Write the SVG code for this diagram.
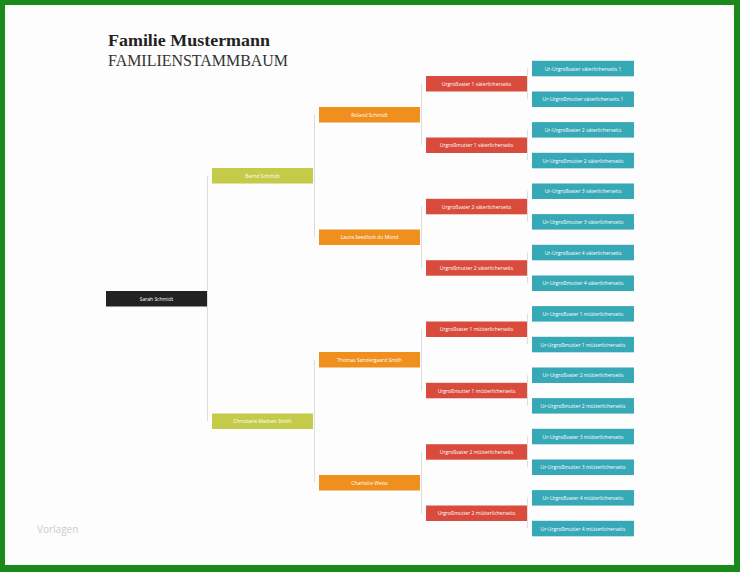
<svg xmlns="http://www.w3.org/2000/svg" width="740" height="572" viewBox="0 0 740 572">
<style>
.t{font-family:"Open Sans","Liberation Sans",sans-serif;font-size:5px;fill:#ffffff;text-anchor:middle;dominant-baseline:central}
.k{fill:#222222}.o{fill:#c4cb48}.g{fill:#ef8f1d}.r{fill:#d94b3c}.c{fill:#37a9b6}
.ln{stroke:#dddddd;stroke-width:1;fill:none}
</style>
<rect x="0" y="0" width="740" height="572" fill="#1a8a1a"/>
<rect x="5" y="5" width="729" height="560" fill="#fdfdfd"/>
<text x="108" y="46" font-family="'Liberation Serif',serif" font-weight="bold" font-size="17.5" fill="#222" textLength="162" lengthAdjust="spacingAndGlyphs">Familie Mustermann</text>
<text x="108" y="66" font-family="'Liberation Serif',serif" font-size="16" fill="#333" textLength="180" lengthAdjust="spacingAndGlyphs">FAMILIENSTAMMBAUM</text>
<text x="37" y="533" font-family="'Open Sans','Liberation Sans',sans-serif" font-size="10" fill="#cccccc">Vorlagen</text>
<g id="connectors">
<line class="ln" x1="207.5" y1="176" x2="207.5" y2="421"/>
<line class="ln" x1="314.5" y1="114.5" x2="314.5" y2="237"/>
<line class="ln" x1="314.5" y1="360" x2="314.5" y2="482.5"/>
<line class="ln" x1="421.5" y1="84" x2="421.5" y2="145"/>
<line class="ln" x1="421.5" y1="206.5" x2="421.5" y2="268"/>
<line class="ln" x1="421.5" y1="329" x2="421.5" y2="390.5"/>
<line class="ln" x1="421.5" y1="452" x2="421.5" y2="513.5"/>
<line class="ln" x1="527.5" y1="68.5" x2="527.5" y2="99.2"/>
<line class="ln" x1="527.5" y1="129.8" x2="527.5" y2="160.5"/>
<line class="ln" x1="527.5" y1="191.2" x2="527.5" y2="221.8"/>
<line class="ln" x1="527.5" y1="252.5" x2="527.5" y2="283.2"/>
<line class="ln" x1="527.5" y1="313.8" x2="527.5" y2="344.5"/>
<line class="ln" x1="527.5" y1="375.2" x2="527.5" y2="405.8"/>
<line class="ln" x1="527.5" y1="436.5" x2="527.5" y2="467.2"/>
<line class="ln" x1="527.5" y1="497.8" x2="527.5" y2="528.5"/>
</g>
<g id="n-sarah"><rect class="k" x="106" y="291" width="101" height="15.5"/><text class="t" x="156.5" y="298.7">Sarah Schmidt</text></g>
<g id="n-bernd"><rect class="o" x="212" y="168" width="101" height="15.5"/><text class="t" x="262.5" y="175.8">Bernd Schmidt</text></g>
<g id="n-christiane"><rect class="o" x="212" y="413.5" width="101" height="15.5"/><text class="t" x="262.5" y="421.2">Christiane Madsen Smith</text></g>
<g id="n-roland"><rect class="g" x="319" y="107" width="101" height="15.5"/><text class="t" x="369.5" y="114.7">Roland Schmidt</text></g>
<g id="n-laura"><rect class="g" x="319" y="229.5" width="101" height="15.5"/><text class="t" x="369.5" y="237.2">Laura Seedlock du Mond</text></g>
<g id="n-thomas"><rect class="g" x="319" y="352" width="101" height="15.5"/><text class="t" x="369.5" y="359.8">Thomas Søndergaard Smith</text></g>
<g id="n-charlotte"><rect class="g" x="319" y="475" width="101" height="15.5"/><text class="t" x="369.5" y="482.7">Charlotte Weiss</text></g>
<g id="n-ugv1v"><rect class="r" x="426" y="76" width="101" height="15.5"/><text class="t" x="476.5" y="83.8">Urgroßvater 1 väterlicherseits</text></g>
<g id="n-ugm1v"><rect class="r" x="426" y="137.5" width="101" height="15.5"/><text class="t" x="476.5" y="145.2">Urgroßmutter 1 väterlicherseits</text></g>
<g id="n-ugv2v"><rect class="r" x="426" y="198.8" width="101" height="15.5"/><text class="t" x="476.5" y="206.5">Urgroßvater 2 väterlicherseits</text></g>
<g id="n-ugm2v"><rect class="r" x="426" y="260.2" width="101" height="15.5"/><text class="t" x="476.5" y="267.9">Urgroßmutter 2 väterlicherseits</text></g>
<g id="n-ugv1m"><rect class="r" x="426" y="321.5" width="101" height="15.5"/><text class="t" x="476.5" y="329.2">Urgroßvater 1 mütterlicherseits</text></g>
<g id="n-ugm1m"><rect class="r" x="426" y="382.8" width="101" height="15.5"/><text class="t" x="476.5" y="390.5">Urgroßmutter 1 mütterlicherseits</text></g>
<g id="n-ugv2m"><rect class="r" x="426" y="444.2" width="101" height="15.5"/><text class="t" x="476.5" y="451.9">Urgroßvater 2 mütterlicherseits</text></g>
<g id="n-ugm2m"><rect class="r" x="426" y="505.5" width="101" height="15.5"/><text class="t" x="476.5" y="513.2">Urgroßmutter 2 mütterlicherseits</text></g>
<g id="n-uu1"><rect class="c" x="532" y="60.8" width="102" height="15.5"/><text class="t" x="583" y="68.5">Ur-Urgroßvater väterlicherseits 1</text></g>
<g id="n-uu2"><rect class="c" x="532" y="91.5" width="102" height="15.5"/><text class="t" x="583" y="99.2">Ur-Urgroßmutter väterlicherseits 1</text></g>
<g id="n-uu3"><rect class="c" x="532" y="122.1" width="102" height="15.5"/><text class="t" x="583" y="129.8">Ur-Urgroßvater 2 väterlicherseits</text></g>
<g id="n-uu4"><rect class="c" x="532" y="152.8" width="102" height="15.5"/><text class="t" x="583" y="160.5">Ur-Urgroßmutter 2 väterlicherseits</text></g>
<g id="n-uu5"><rect class="c" x="532" y="183.5" width="102" height="15.5"/><text class="t" x="583" y="191.2">Ur-Urgroßvater 3 väterlicherseits</text></g>
<g id="n-uu6"><rect class="c" x="532" y="214.1" width="102" height="15.5"/><text class="t" x="583" y="221.8">Ur-Urgroßmutter 3 väterlicherseits</text></g>
<g id="n-uu7"><rect class="c" x="532" y="244.8" width="102" height="15.5"/><text class="t" x="583" y="252.5">Ur-Urgroßvater 4 väterlicherseits</text></g>
<g id="n-uu8"><rect class="c" x="532" y="275.5" width="102" height="15.5"/><text class="t" x="583" y="283.2">Ur-Urgroßmutter 4 väterlicherseits</text></g>
<g id="n-uu9"><rect class="c" x="532" y="306.1" width="102" height="15.5"/><text class="t" x="583" y="313.8">Ur-Urgroßvater 1 mütterlicherseits</text></g>
<g id="n-uu10"><rect class="c" x="532" y="336.8" width="102" height="15.5"/><text class="t" x="583" y="344.5">Ur-Urgroßmutter 1 mütterlicherseits</text></g>
<g id="n-uu11"><rect class="c" x="532" y="367.5" width="102" height="15.5"/><text class="t" x="583" y="375.2">Ur-Urgroßvater 2 mütterlicherseits</text></g>
<g id="n-uu12"><rect class="c" x="532" y="398.1" width="102" height="15.5"/><text class="t" x="583" y="405.8">Ur-Urgroßmutter 2 mütterlicherseits</text></g>
<g id="n-uu13"><rect class="c" x="532" y="428.8" width="102" height="15.5"/><text class="t" x="583" y="436.5">Ur-Urgroßvater 3 mütterlicherseits</text></g>
<g id="n-uu14"><rect class="c" x="532" y="459.5" width="102" height="15.5"/><text class="t" x="583" y="467.2">Ur-Urgroßmutter 3 mütterlicherseits</text></g>
<g id="n-uu15"><rect class="c" x="532" y="490.1" width="102" height="15.5"/><text class="t" x="583" y="497.8">Ur-Urgroßvater 4 mütterlicherseits</text></g>
<g id="n-uu16"><rect class="c" x="532" y="520.8" width="102" height="15.5"/><text class="t" x="583" y="528.5">Ur-Urgroßmutter 4 mütterlicherseits</text></g>
</svg>
